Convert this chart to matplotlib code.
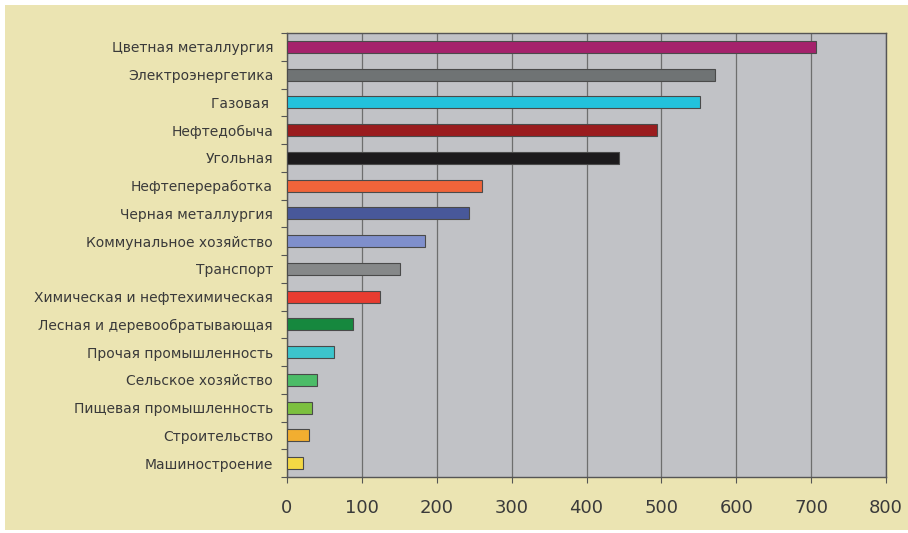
import numpy as np
import matplotlib.pyplot as plt
from matplotlib.patches import Rectangle

# отрасли (сверху вниз) и значения
categories = [
    "Цветная металлургия",
    "Электроэнергетика",
    "Газовая ",
    "Нефтедобыча",
    "Угольная",
    "Нефтепереработка",
    "Черная металлургия",
    "Коммунальное хозяйство",
    "Транспорт",
    "Химическая и нефтехимическая",
    "Лесная и деревообратывающая",
    "Прочая промышленность",
    "Сельское хозяйство",
    "Пищевая промышленность",
    "Строительство",
    "Машиностроение",
]
values = [706, 572, 551, 494, 444, 260, 243, 184, 151, 124, 88, 63, 40, 34, 29, 22]
colors = [
    "#a5226c", "#6f7374", "#22c2dc", "#9a1c1e", "#1c1a1c", "#f0643a",
    "#48589a", "#7f8fcc", "#868889", "#e83c30", "#16883e", "#3cc4cc",
    "#4cbc68", "#7cc040", "#f2ae30", "#f4d844",
]
xticks = [0, 100, 200, 300, 400, 500, 600, 700, 800]

plt.rcParams['font.family'] = ['DejaVu Sans']

fig = plt.figure(figsize=(9.08, 5.33), dpi=100, facecolor="white")
# бежевая подложка
fig.patches.append(Rectangle((5 / 908, 3 / 533), 1 - 5 / 908, 1 - 8 / 533,
                             transform=fig.transFigure, facecolor="#ebe4b2",
                             edgecolor="none", zorder=-10))

ax = fig.add_axes([287 / 908, 56 / 533, 599 / 908, 444 / 533])
ax.set_facecolor("#c1c2c6")

y = np.arange(len(categories))
ax.barh(y, values, height=0.44, color=colors, edgecolor="#4a4a4a",
        linewidth=0.8, zorder=3)

ax.set_xlim(0, 800)
ax.set_ylim(len(categories) - 0.5, -0.5)
ax.set_xticks(xticks)
ax.set_xticklabels([str(t) for t in xticks], fontsize=13, color="#3a3a3a")
ax.tick_params(axis="x", length=4, width=0.8, color="#555555", pad=12)

ax.set_yticks(y)
ax.set_yticklabels(categories, fontsize=10, color="#3a3a3a")
ax.tick_params(axis="y", which="major", length=0, pad=10)
ax.set_yticks(np.arange(len(categories) + 1) - 0.5, minor=True)
ax.tick_params(axis="y", which="minor", length=4, width=0.8, color="#555555")

ax.grid(axis="x", color="#6e6e6e", linewidth=0.9, zorder=1)
ax.set_axisbelow(True)
for s in ax.spines.values():
    s.set_color("#555555")
    s.set_linewidth(1.0)

fig.savefig("out.png", dpi=100, facecolor=fig.get_facecolor())
